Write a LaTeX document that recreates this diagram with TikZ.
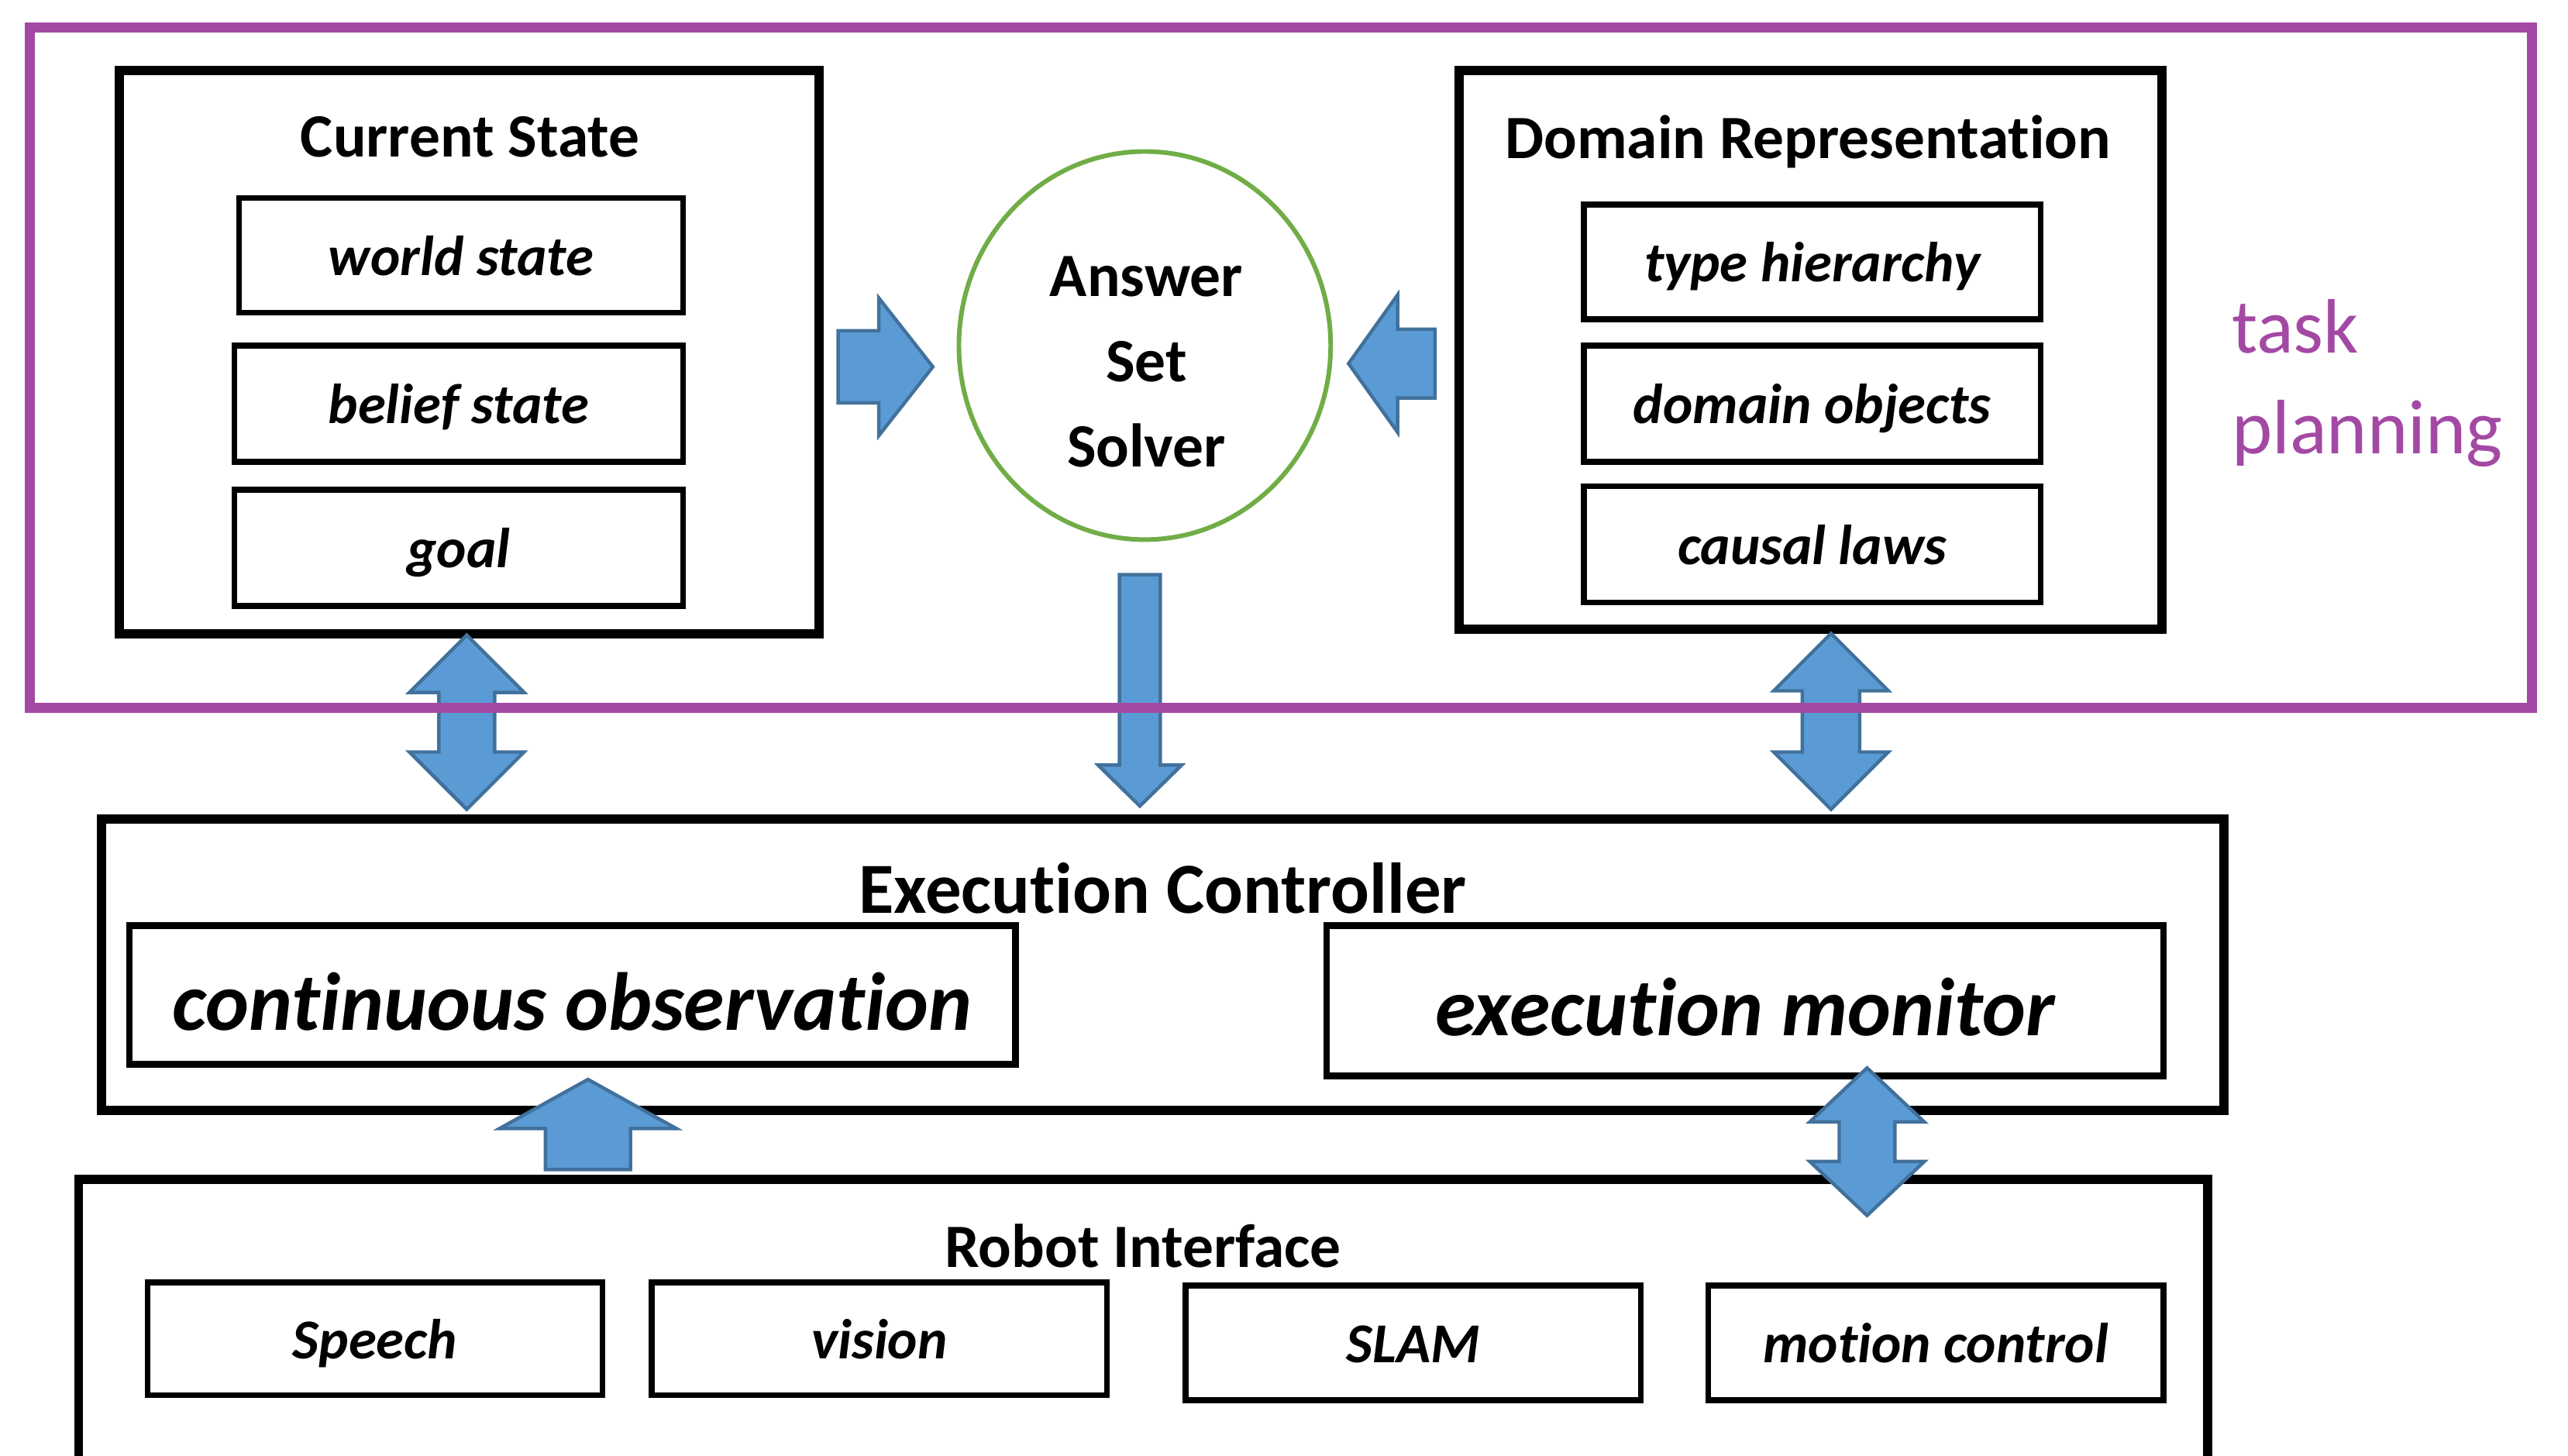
\documentclass[tikz,border=0pt]{standalone}
\usepackage{fontspec}
\setmainfont{Carlito}[Ligatures=NoCommon]
\usetikzlibrary{calc,shapes.geometric}

\definecolor{framepurple}{HTML}{A349A4}
\definecolor{solvergreen}{HTML}{70AD47}
\definecolor{arrowfill}{HTML}{5B9BD5}
\definecolor{arrowline}{HTML}{41719C}

\tikzset{
  outerbox/.style={draw, line width=1.6pt, inner sep=0pt},
  innerbox/.style={draw, line width=1pt, inner sep=0pt, text height=7.4pt, text depth=0.5pt,
    font=\fontsize{9.8}{12}\selectfont\bfseries\itshape},
  bigbox/.style={draw, line width=1.2pt, inner sep=0pt, text height=12.2pt, text depth=0pt,
    font=\fontsize{14.3}{17}\selectfont\bfseries\itshape},
  title/.style={font=\fontsize{10.7}{13}\selectfont\bfseries, inner sep=0pt, text height=7.2pt, text depth=0pt},
  blockarrow/.style={fill=arrowfill, draw=arrowline, line width=0.6pt, line join=miter},
}

% #1 tail, #2 tip, #3 half shaft, #4 half head, #5 head length
\newcommand{\onewayarrow}[5]{%
  \coordinate (hb) at ($(#2)!#5!(#1)$);
  \draw[blockarrow] (#2) -- ($(hb)!#4!90:(#2)$) -- ($(hb)!#3!90:(#2)$)
    -- ($(#1)!#3!90:(#2)$) -- ($(#1)!#3!-90:(#2)$) -- ($(hb)!#3!-90:(#2)$)
    -- ($(hb)!#4!-90:(#2)$) -- cycle;}
% #1 tip, #2 tip, #3 half shaft, #4 half head, #5 head length
\newcommand{\twowayarrow}[5]{%
  \coordinate (hba) at ($(#1)!#5!(#2)$);
  \coordinate (hbb) at ($(#2)!#5!(#1)$);
  \draw[blockarrow] (#1) -- ($(hba)!#4!90:(#1)$) -- ($(hba)!#3!90:(#1)$)
    -- ($(hbb)!#3!90:(#1)$) -- ($(hbb)!#4!90:(#1)$) -- (#2)
    -- ($(hbb)!#4!-90:(#1)$) -- ($(hbb)!#3!-90:(#1)$)
    -- ($(hba)!#3!-90:(#1)$) -- ($(hba)!#4!-90:(#1)$) -- cycle;}

\begin{document}
\begin{tikzpicture}[x=0.1mm, y=-0.1mm]
\useasboundingbox (0,0) rectangle (1568,889);
\clip (0,0) rectangle (1568,889);

% current state
\node[outerbox, minimum width=42.7mm, minimum height=34.4mm] (cs) at (286.5,215) {};
\node[title] (cstitle) at (287,83) {Current State};
\node[innerbox, minimum width=27.1mm, minimum height=7mm] (ws) at (281.5,156) {world state};
\node[innerbox, minimum width=27.4mm, minimum height=7.1mm] (bs) at (280,246.5) {belief state};
\node[innerbox, minimum width=27.4mm, minimum height=7.1mm] (goal) at (280,334.5) {goal};

% solver
\node[draw=solvergreen, line width=0.8pt, ellipse, minimum width=22.7mm, minimum height=23.7mm] (asp) at (699,211) {};
\node[align=center, inner sep=0pt, font=\fontsize{10.7}{14.8}\selectfont\bfseries] (asptext) at (700,221) {Answer\\Set\\Solver};

% domain representation
\node[outerbox, minimum width=42.9mm, minimum height=34.1mm] (dr) at (1105.5,213.5) {};
\node[title] (drtitle) at (1104,84) {Domain Representation};
\node[innerbox, minimum width=27.9mm, minimum height=7mm] (th) at (1106.5,160) {type hierarchy};
\node[innerbox, minimum width=27.9mm, minimum height=7.1mm] (do) at (1106.5,246.5) {domain objects};
\node[innerbox, minimum width=27.9mm, minimum height=7.1mm] (cl) at (1106.5,332.5) {causal laws};

% execution controller
\node[outerbox, minimum width=129.6mm, minimum height=17.8mm] (ec) at (710,589) {};
\node[title, font=\fontsize{12.5}{15}\selectfont\bfseries, text height=8.4pt] (ectitle) at (710,543) {Execution Controller};
\node[bigbox, minimum width=54.1mm, minimum height=8.5mm] (co) at (349.5,607.5) {continuous observation};
\node[bigbox, minimum width=51.1mm, minimum height=9.2mm] (em) at (1065.5,611) {execution monitor};

% robot interface
\node[outerbox, minimum width=130mm, minimum height=19mm] (ri) at (698,815) {};
\node[title] (rititle) at (698,761) {Robot Interface};
\node[innerbox, minimum width=27.8mm, minimum height=6.9mm] (sp) at (229,817.5) {Speech};
\node[innerbox, minimum width=27.8mm, minimum height=6.9mm] (vi) at (537,817.5) {vision};
\node[innerbox, minimum width=27.8mm, minimum height=7mm] (sl) at (863,820) {SLAM};
\node[innerbox, minimum width=27.8mm, minimum height=7mm] (mc) at (1182,820) {motion control};

% block arrows
\coordinate (a1s) at ($(cs.east)+(9,9)$);
\coordinate (a1e) at ($(asp.west)+(-14.5,13)$);
\onewayarrow{a1s}{a1e}{2.2mm}{4.2mm}{3.3mm}
\coordinate (a2s) at ($(dr.west)+(-12,8.5)$);
\coordinate (a2e) at ($(asp.east)+(9.5,11)$);
\onewayarrow{a2s}{a2e}{2.1mm}{4.2mm}{3mm}
\coordinate (a3s) at ($(asp.south)+(-3,20)$);
\coordinate (a3e) at ($(a3s |- ec.north)+(0,-5)$);
\onewayarrow{a3s}{a3e}{1.25mm}{2.55mm}{2.5mm}
\coordinate (a4a) at ($(cs.south)+(-1.5,-2)$);
\coordinate (a4b) at ($(a4a |- ec.north)+(0,-3)$);
\twowayarrow{a4a}{a4b}{1.7mm}{3.5mm}{3.5mm}
\coordinate (a5a) at ($(dr.south)+(12.5,0)$);
\coordinate (a5b) at ($(a5a |- ec.north)+(0,-3)$);
\twowayarrow{a5a}{a5b}{1.75mm}{3.5mm}{3.5mm}
\coordinate (a6s) at ($(ri.north -| 359,0)+(0,-3)$);
\coordinate (a6e) at ($(co.south -| 359,0)+(0,7)$);
\onewayarrow{a6s}{a6e}{2.6mm}{5.4mm}{3mm}
\coordinate (a7a) at ($(em.south -| 1140,0)+(0,-7)$);
\coordinate (a7b) at ($(ri.north -| 1140,0)+(0,25)$);
\twowayarrow{a7a}{a7b}{1.7mm}{3.5mm}{3.3mm}

% task planning frame
\node[draw=framepurple, line width=1.75pt, minimum width=152.8mm, minimum height=41.5mm, inner sep=0pt] (tp) at (782,224.5) {};
\node[anchor=west, align=left, inner sep=0pt, text=framepurple, font=\fontsize{13.4}{17.4}\selectfont] (tplabel) at (1362,234) {task\\planning};
\end{tikzpicture}
\end{document}
